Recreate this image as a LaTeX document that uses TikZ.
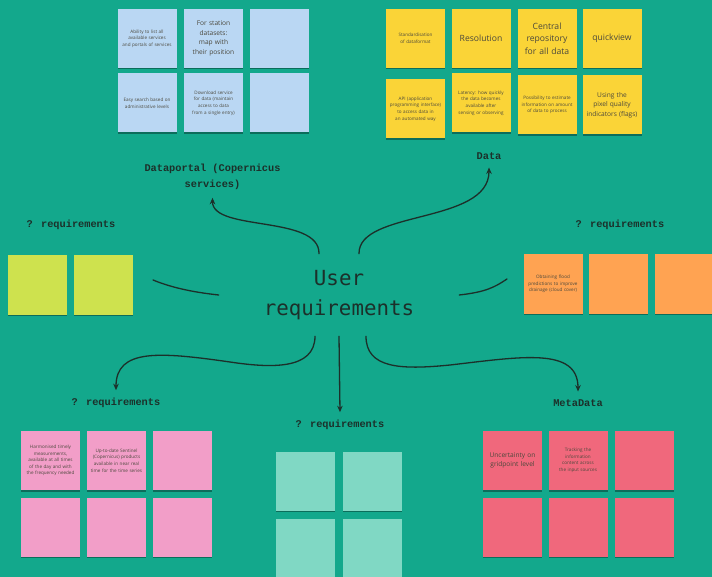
\documentclass[tikz,border=0pt]{standalone}
\usepackage{fontspec}
\usetikzlibrary{arrows.meta,shadows}

\newfontfamily\labelfont{Liberation Mono}
\newfontfamily\titlefont{DejaVu Sans Mono}
\newfontfamily\notefont{Open Sans}

\definecolor{boardteal}{RGB}{19,168,140}
\definecolor{inkdark}{RGB}{28,48,42}
\definecolor{notetext}{RGB}{75,72,60}
\definecolor{blueNote}{RGB}{186,215,243}
\definecolor{yellowNote}{RGB}{250,212,55}
\definecolor{limeNote}{RGB}{206,226,78}
\definecolor{orangeNote}{RGB}{255,163,82}
\definecolor{pinkNote}{RGB}{242,158,200}
\definecolor{tealNote}{RGB}{128,216,196}
\definecolor{redNote}{RGB}{240,104,124}

\hyphenpenalty=10000
\exhyphenpenalty=10000

\tikzset{
  sticky/.style={minimum width=59pt, minimum height=59pt, inner sep=2pt,
    text width=52pt, align=center, text=notetext,
    drop shadow={shadow xshift=0pt, shadow yshift=-1.5pt, opacity=0.35, fill=black}},
  smalltext/.style={font=\notefont\fontsize{4.6}{6.6}\selectfont},
  midtext/.style={font=\notefont\fontsize{6.6}{9.5}\selectfont},
  bigtext/.style={font=\notefont\fontsize{8.6}{12.5}\selectfont},
  tag/.style={text=inkdark, inner sep=1pt, outer sep=7pt, align=center,
    font=\labelfont\bfseries\fontsize{10.3}{16}\selectfont},
  link/.style={draw=inkdark, line width=1.3pt, line cap=round},
  linkarrow/.style={link, -{Stealth[length=6.5pt,width=5.5pt]}},
}

\begin{document}
\begin{tikzpicture}[x=1pt, y=-1pt]

  %% ════ board ════
  \fill[boardteal] (0,0) rectangle (712,577);

  %% ════ centre ════
  \node[text=inkdark, align=center, minimum width=240pt, minimum height=82pt,
        font=\titlefont\fontsize{20.8}{30}\selectfont] (user) at (339,295) {User\\requirements};

  %% ════ group labels ════
  \node[tag] (dplabel)    at (212.5,177) {Dataportal (Copernicus\\services)};
  \node[tag] (datalabel)  at (489,156)   {Data};
  \node[tag] (leftlabel)  at (71,225)    {? requirements};
  \node[tag] (rightlabel) at (620,225)   {? requirements};
  \node[tag] (bllabel)    at (116,403)   {? requirements};
  \node[tag] (bclabel)    at (340,425)   {? requirements};
  \node[tag] (metalabel)  at (578,403)   {MetaData};

  %% ════ Dataportal notes (blue) ════
  \node[sticky, fill=blueNote, smalltext] (dp1) at (147,38.5)   {Ability to list all available services and portals of services};
  \node[sticky, fill=blueNote, midtext]   (dp2) at (213.5,38.5) {For station datasets: map with their position};
  \node[sticky, fill=blueNote]            (dp3) at (279,38.5)   {};
  \node[sticky, fill=blueNote, smalltext] (dp4) at (147,103)    {Easy search based on administrative levels};
  \node[sticky, fill=blueNote, smalltext] (dp5) at (213.5,103)  {Download service for data (maintain access to data from a single entry)};
  \node[sticky, fill=blueNote]            (dp6) at (279,103)    {};

  %% ════ Data notes (yellow) ════
  \node[sticky, fill=yellowNote, smalltext] (data1) at (415.5,38.5) {Standardisation of dataformat};
  \node[sticky, fill=yellowNote, bigtext]   (data2) at (481,38.5)   {Resolution};
  \node[sticky, fill=yellowNote, bigtext]   (data3) at (547,38.5)   {Central repository for all data};
  \node[sticky, fill=yellowNote, bigtext]   (data4) at (612,38.5)   {quickview};
  \node[sticky, fill=yellowNote, smalltext] (data5) at (415.5,109)  {API (application programming interface) to access data in an automated way};
  \node[sticky, fill=yellowNote, smalltext] (data6) at (481,103)    {Latency: how quickly the data becomes available after sensing or observing};
  \node[sticky, fill=yellowNote, smalltext] (data7) at (547,105)    {Possibility to estimate information on amount of data to process};
  \node[sticky, fill=yellowNote, midtext]   (data8) at (612,105)    {Using the pixel quality indicators (flags)};

  %% ════ left / right notes ════
  \node[sticky, fill=limeNote] (lq1) at (37,285)  {};
  \node[sticky, fill=limeNote] (lq2) at (103,285) {};
  \node[sticky, fill=orangeNote, smalltext] (rq1) at (553,284)   {Obtaining flood predictions to improve drainage (cloud cover)};
  \node[sticky, fill=orangeNote]            (rq2) at (618.5,284) {};
  \node[sticky, fill=orangeNote]            (rq3) at (684,284)   {};

  %% ════ bottom-left notes (pink) ════
  \node[sticky, fill=pinkNote, smalltext] (bl1) at (50.5,460.5)  {Harmonised timely measurements, available at all times of the day and with the frequency needed};
  \node[sticky, fill=pinkNote, smalltext] (bl2) at (116.5,460.5) {Up-to-date Sentinel (Copernicus) products available in near real time for the time series};
  \node[sticky, fill=pinkNote]            (bl3) at (182.5,460.5) {};
  \node[sticky, fill=pinkNote]            (bl4) at (50.5,527)    {};
  \node[sticky, fill=pinkNote]            (bl5) at (116.5,527)   {};
  \node[sticky, fill=pinkNote]            (bl6) at (182.5,527)   {};

  %% ════ bottom-centre notes (teal) ════
  \node[sticky, fill=tealNote] (bc1) at (305,481) {};
  \node[sticky, fill=tealNote] (bc2) at (372,481) {};
  \node[sticky, fill=tealNote] (bc3) at (305,548) {};
  \node[sticky, fill=tealNote] (bc4) at (372,548) {};

  %% ════ MetaData notes (red) ════
  \node[sticky, fill=redNote, midtext]   (md1) at (512.5,460.5) {Uncertainty on gridpoint level};
  \node[sticky, fill=redNote, smalltext] (md2) at (578,460.5)   {Tracking the information content across the input sources};
  \node[sticky, fill=redNote]            (md3) at (644.5,460.5) {};
  \node[sticky, fill=redNote]            (md4) at (512.5,527)   {};
  \node[sticky, fill=redNote]            (md5) at (578,527)     {};
  \node[sticky, fill=redNote]            (md6) at (644.5,527)   {};

  %% ════ connectors ════
  \coordinate (leftend)  at (153,280);
  \coordinate (rightend) at (507,279);

  \draw[linkarrow] ([xshift=-20pt]user.north) .. controls +(1,-39) and +(0,34) .. (dplabel.south);
  \draw[linkarrow] ([xshift=20pt]user.north) .. controls +(-1,-44) and +(0,57) .. (datalabel.south);
  \draw[link] (user.west) .. controls +(-28,-3) and +(17,7) .. (leftend);
  \draw[link] (user.east) .. controls +(27,-3) and +(-12,8) .. (rightend);
  \draw[linkarrow] ([xshift=-24pt]user.south) .. controls +(0,34) and +(40,6) .. (230,362)
                   .. controls +(-70,-10) and +(0,-42) .. (bllabel.north);
  \draw[linkarrow] (user.south) -- (bclabel.north);
  \draw[linkarrow] ([xshift=27pt]user.south) .. controls +(0,32) and +(-50,5) .. (450,365)
                   .. controls +(70,-8) and +(0,-45) .. (metalabel.north);

  \pgfresetboundingbox
  \path[use as bounding box] (0,0) rectangle (712,577);
\end{tikzpicture}
\end{document}
